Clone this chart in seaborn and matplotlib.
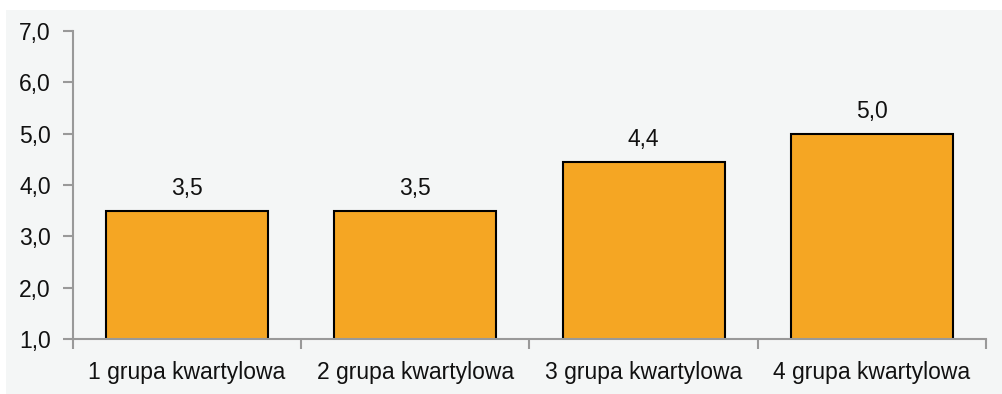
import matplotlib
matplotlib.use("Agg")
import matplotlib.pyplot as plt
from matplotlib.patches import Rectangle
from matplotlib.ticker import FuncFormatter, FixedLocator
import seaborn as sns
import pandas as pd

groups = ["1 grupa kwartylowa", "2 grupa kwartylowa", "3 grupa kwartylowa", "4 grupa kwartylowa"]
values = [3.5, 3.5, 4.45, 5.0]
labels = ["3,5", "3,5", "4,4", "5,0"]

df = pd.DataFrame({"grupa": groups, "wartosc": values})

sns.set_style("ticks")
plt.rcParams["font.family"] = ["Liberation Sans", "DejaVu Sans"]

fig = plt.figure(figsize=(10.03, 3.94), dpi=100, facecolor="white")
# light grey panel behind the chart
fig.patches.append(Rectangle((6 / 1003, 0), 1, 1 - 10 / 394, transform=fig.transFigure,
                             facecolor="#f4f6f6", edgecolor="none", zorder=-10))
ax = fig.add_axes([73 / 1003, 1 - 339 / 394, (986 - 73) / 1003, (339 - 31) / 394])
ax.set_facecolor("none")

sns.barplot(data=df, x="grupa", y="wartosc", color="#f5a623", width=0.71,
            edgecolor="black", linewidth=1.5, saturation=1, ax=ax)

for i, (v, lab) in enumerate(zip(values, labels)):
    ax.annotate(lab, (i, v), xytext=(0, 8), textcoords="offset points",
                ha="center", va="bottom", fontsize=16.5, color="#111111",
                family=["Liberation Sans Narrow", "Liberation Sans", "DejaVu Sans"])

ax.set_ylim(1, 7)
ax.set_xlim(-0.5, len(groups) - 0.5)
ax.set_yticks([1, 2, 3, 4, 5, 6, 7])
ax.yaxis.set_major_formatter(FuncFormatter(lambda v, p: f"{v:.1f}".replace(".", ",")))
ax.xaxis.set_minor_locator(FixedLocator([i - 0.5 for i in range(len(groups) + 1)]))
ax.tick_params(axis="x", which="major", length=0, pad=16, labelsize=16.5, colors="#111111")
ax.tick_params(axis="x", which="minor", length=7, width=1.5, color="#999999", direction="out")
ax.tick_params(axis="y", length=7, width=1.5, color="#999999", pad=9, labelsize=16.5, labelcolor="#111111")
ax.set_xlabel("")
ax.set_ylabel("")

for side in ["top", "right"]:
    ax.spines[side].set_visible(False)
for side in ["left", "bottom"]:
    ax.spines[side].set_color("#999999")
    ax.spines[side].set_linewidth(1.5)

fig.savefig("out.png", dpi=100, facecolor="white")
